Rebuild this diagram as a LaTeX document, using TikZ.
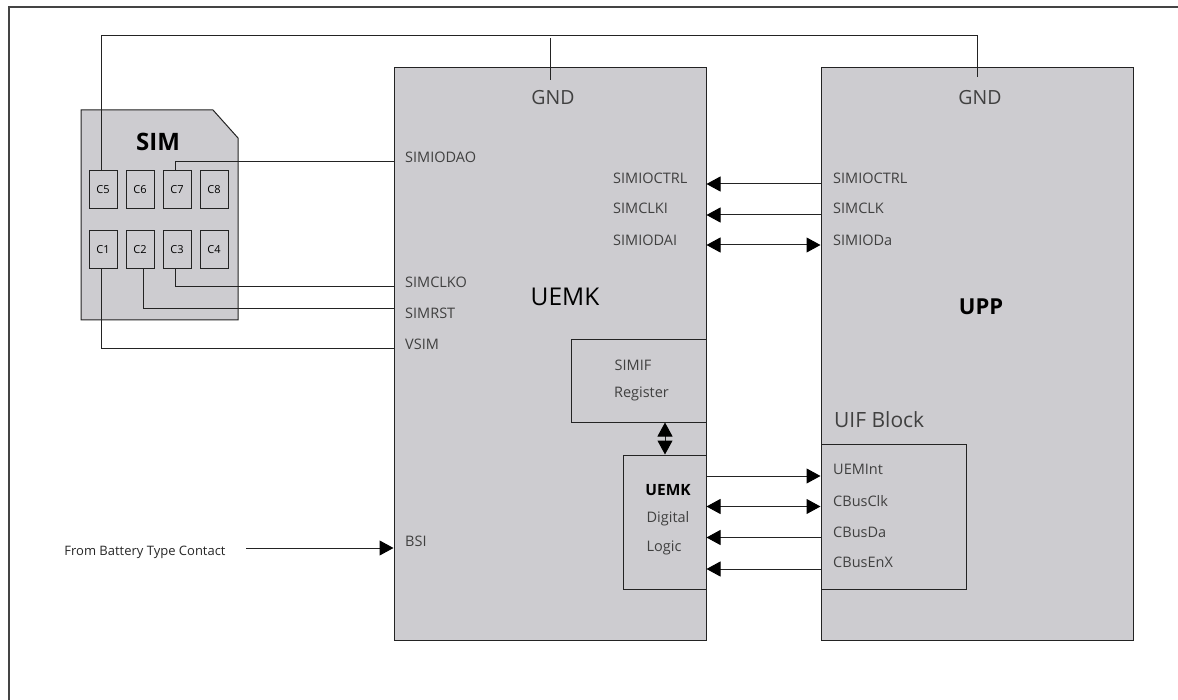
\documentclass[tikz,border=0pt]{standalone}
\usepackage{fontspec}
\setmainfont{Open Sans}
\usepackage{xcolor}
\definecolor{blockgray}{RGB}{205, 204, 208}
\definecolor{linegray}{RGB}{35, 35, 35}
\usetikzlibrary{arrows.meta, positioning, calc}
\tikzset{
    block/.style={draw=linegray, fill=blockgray, line width=1pt, inner sep=0pt},
    contact/.style={block, minimum width=28pt, minimum height=38pt, font=\fontsize{11}{13}\selectfont},
    pin/.style={text=black!75, font=\fontsize{14.5}{17}\selectfont, inner sep=0pt},
    wire/.style={draw=linegray, line width=1pt},
    sig/.style={wire, -{Triangle[length=14pt, width=15pt, color=black]}},
    bisig/.style={wire, {Triangle[length=14pt, width=15pt, color=black]}-{Triangle[length=14pt, width=15pt, color=black]}}
}
\begin{document}
\begin{tikzpicture}[x=1pt, y=-1pt]
    \useasboundingbox (0,0) rectangle (1178,700);
    \draw[linegray!85, line width=1.5pt] (9,700) -- (9,7) -- (1178,7);

    % SIM card
    \draw[block] (81,110) -- (213,110) -- (238,138) -- (238,320) -- (81,320) -- cycle;
    \node[font=\bfseries\fontsize{24}{26}\selectfont, inner sep=0pt] (simtitle) at (158,142) {SIM};
    \foreach \name/\lab/\xpos/\ypos in {c5/C5/103/189.5, c6/C6/140/189.5, c7/C7/177/189.5, c8/C8/214/189.5,
        c1/C1/103/249.5, c2/C2/140/249.5, c3/C3/177/249.5, c4/C4/214/249.5}
        \node[contact] (\name) at (\xpos,\ypos) {\lab};

    % the two chips
    \node[block, minimum width=312pt, minimum height=572pt] (uemk) at (550,354) {};
    \node[block, minimum width=312pt, minimum height=572pt] (upp) at (977,354) {};
    \node[block, minimum width=135pt, minimum height=82pt] (simif) at (638.5,381) {};
    \node[block, minimum width=83pt, minimum height=134pt] (logic) at (664.5,522) {};
    \node[block, minimum width=145pt, minimum height=145pt] (uif) at (893.5,516.5) {};

    % labels
    \node[pin, font=\fontsize{19.5}{22}\selectfont] (gnda) at (553,98) {GND};
    \node[pin, font=\fontsize{19.5}{22}\selectfont] (gndb) at (980,98) {GND};
    \node[font=\fontsize{24.5}{27}\selectfont, inner sep=0pt] (uemklab) at (565,297) {UEMK};
    \node[font=\bfseries\fontsize{22}{24}\selectfont, inner sep=0pt] (upplab) at (981,307) {UPP};
    \node[pin, anchor=west] (simiodao) at (405,157) {SIMIODAO};
    \node[pin, anchor=west] (simclko) at (405,282) {SIMCLKO};
    \node[pin, anchor=west] (simrst) at (405,313) {SIMRST};
    \node[pin, anchor=west] (vsim) at (405,344) {VSIM};
    \node[pin, anchor=west] (bsi) at (405,541) {BSI};
    \node[pin, anchor=west] (ctrla) at (613,178) {SIMIOCTRL};
    \node[pin, anchor=west] (clki) at (613,208) {SIMCLKI};
    \node[pin, anchor=west] (odai) at (613,240) {SIMIODAI};
    \node[pin, anchor=west] (ctrlb) at (833,178) {SIMIOCTRL};
    \node[pin, anchor=west] (clk) at (833,208) {SIMCLK};
    \node[pin, anchor=west] (oda) at (833,240) {SIMIODa};
    \node[pin] (simifa) at (633,365) {SIMIF};
    \node[pin] (simifb) at (641.5,394) {Register};
    \node[font=\bfseries\fontsize{15.5}{18}\selectfont, inner sep=0pt] (logica) at (668,490) {UEMK};
    \node[pin] (logicb) at (668,519) {Digital};
    \node[pin] (logicc) at (664,548) {Logic};
    \node[pin, anchor=west, font=\fontsize{21}{24}\selectfont] (uiflab) at (834,420) {UIF Block};
    \node[pin, anchor=west] (uemint) at (833,469) {UEMInt};
    \node[pin, anchor=west] (cbusclk) at (833,501) {CBusClk};
    \node[pin, anchor=west] (cbusda) at (833,532) {CBusDa};
    \node[pin, anchor=west] (cbusenx) at (833,562) {CBusEnX};
    \node[inner sep=0pt, text=black!85, font=\fontsize{13}{15}\selectfont] (battery) at (145,552) {From Battery Type Contact};

    % free ends of the wires
    \coordinate (gndtopl) at (101,36);
    \coordinate (gndtopr) at (977,36);
    \coordinate (gndtopa) at (550,38);
    \coordinate (gndenda) at (550,80);
    \coordinate (gndendb) at (977,77);
    \coordinate (bsistart) at (246,548);

    % SIM wires
    \draw[wire] ([xshift=-2pt]c5.north) -- (gndtopl) -- (gndtopr) -- (gndendb);
    \draw[wire] (gndtopa) -- (gndenda);
    \draw[wire] ([xshift=-2pt]c7.north) |- (uemk.west |- 0,162);
    \draw[wire] ([xshift=-2pt]c3.south) |- (uemk.west |- 0,287);
    \draw[wire] ([xshift=3pt]c2.south) |- (uemk.west |- 0,308.5);
    \draw[wire] ([xshift=-2pt]c1.south) |- (uemk.west |- 0,349);

    % between the chips
    \draw[sig] (upp.west |- 0,184) -- (uemk.east |- 0,184);
    \draw[sig] (upp.west |- 0,215) -- (uemk.east |- 0,215);
    \draw[bisig] (uemk.east |- 0,245) -- (upp.west |- 0,245);
    \draw[sig] (logic.east |- 0,476) -- (uif.west |- 0,476);
    \draw[bisig] (logic.east |- 0,506.5) -- (uif.west |- 0,506.5);
    \draw[sig] (uif.west |- 0,537.5) -- (logic.east |- 0,537.5);
    \draw[sig] (uif.west |- 0,569) -- (logic.east |- 0,569);

    \draw[bisig] (simif.south -| 665,0) -- (logic.north -| 665,0);
    \draw[sig] (bsistart) -- (uemk.west |- bsistart);
\end{tikzpicture}
\end{document}
